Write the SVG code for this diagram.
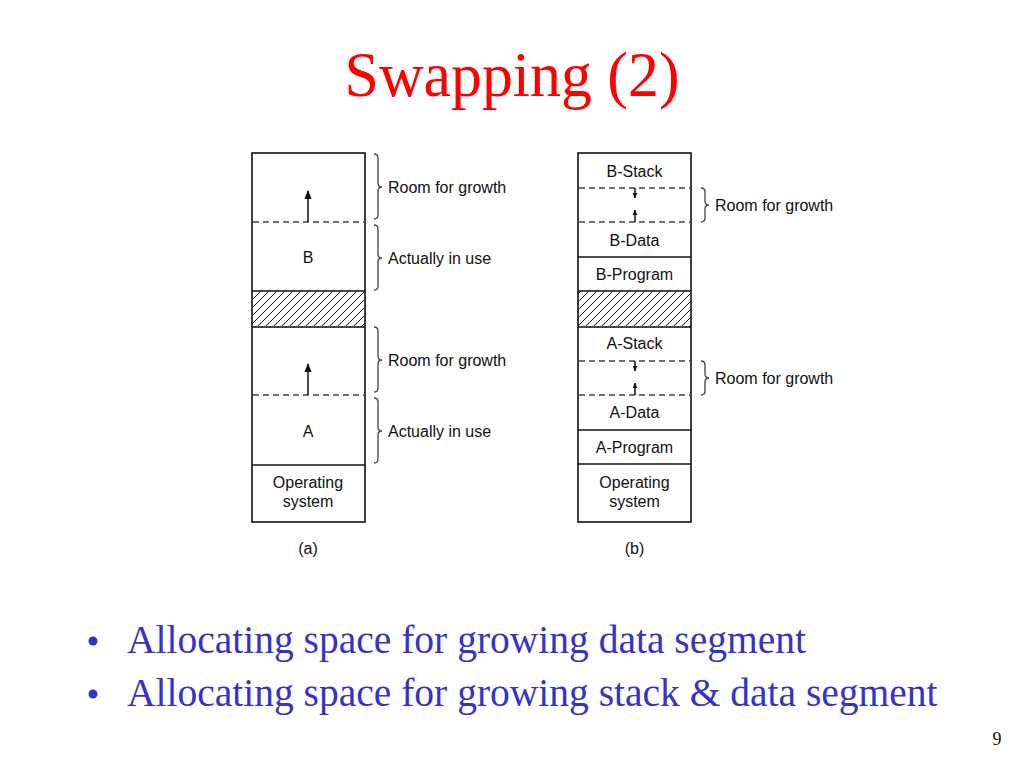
<svg xmlns="http://www.w3.org/2000/svg" width="1024" height="768" viewBox="0 0 1024 768">
<defs>
<style>
.title{font-family:"Liberation Serif","Times New Roman",serif;font-size:63px;fill:#ff0000}
.bul{font-family:"Liberation Serif","Times New Roman",serif;font-size:39.5px;fill:#3333cc}
.lbl{font-family:"Liberation Sans",Arial,sans-serif;font-size:16px;fill:#111}
.mid{text-anchor:middle}
.seg{fill:#fff}
.dash{stroke:#444;stroke-width:1.3;stroke-dasharray:6 4;fill:none}
.solid{stroke:#111;stroke-width:1.6;fill:none}
.brace{stroke:#444;stroke-width:1.3;fill:none}
.arr{stroke:#111;stroke-width:1.5;fill:none}
</style>
<pattern id="hatch" patternUnits="userSpaceOnUse" width="8" height="8">
<path d="M-2,2 L2,-2 M0,8 L8,0 M6,10 L10,6" stroke="#111" stroke-width="1"/>
</pattern>
<marker id="ah" viewBox="0 0 10 10" refX="9" refY="5" markerWidth="9" markerHeight="9" markerUnits="userSpaceOnUse" orient="auto">
<path d="M0,1 L10,5 L0,9 Z" fill="#111"/>
</marker>
<marker id="ahs" viewBox="0 0 10 10" refX="9" refY="5" markerWidth="6" markerHeight="6" markerUnits="userSpaceOnUse" orient="auto">
<path d="M0,1 L10,5 L0,9 Z" fill="#111"/>
</marker>
</defs>
<rect width="1024" height="768" fill="#fff"/>
<text class="title mid" x="512" y="96" textLength="335" lengthAdjust="spacingAndGlyphs">Swapping (2)</text>

<!-- Column (a) -->
<g id="a-B-room"><rect class="seg" x="252" y="153" width="113" height="69"/></g>
<g id="a-B"><rect class="seg" x="252" y="222" width="113" height="69"/><text class="lbl mid" x="308" y="263">B</text></g>
<g id="a-hatch"><rect x="252" y="291" width="113" height="36" fill="url(#hatch)"/></g>
<g id="a-A-room"><rect class="seg" x="252" y="327" width="113" height="68"/></g>
<g id="a-A"><rect class="seg" x="252" y="395" width="113" height="70"/><text class="lbl mid" x="308" y="437">A</text></g>
<g id="a-os"><rect class="seg" x="252" y="465" width="113" height="57"/><text class="lbl mid" x="308" y="488">Operating</text><text class="lbl mid" x="308" y="507">system</text></g>
<g id="a-caption"><text class="lbl mid" x="308" y="554">(a)</text></g>
<g id="a-frame">
<rect class="solid" x="252" y="153" width="113" height="369"/>
<line class="solid" x1="252" y1="291" x2="365" y2="291"/>
<line class="solid" x1="252" y1="327" x2="365" y2="327"/>
<line class="solid" x1="252" y1="465" x2="365" y2="465"/>
</g>

<!-- Column (b) -->
<g id="b-B-stack"><rect class="seg" x="578" y="153" width="113" height="35"/><text class="lbl mid" x="634.5" y="177">B-Stack</text></g>
<g id="b-B-room"><rect class="seg" x="578" y="188" width="113" height="34"/></g>
<g id="b-B-data"><rect class="seg" x="578" y="222" width="113" height="35"/><text class="lbl mid" x="634.5" y="246">B-Data</text></g>
<g id="b-B-prog"><rect class="seg" x="578" y="257" width="113" height="34"/><text class="lbl mid" x="634.5" y="280">B-Program</text></g>
<g id="b-hatch"><rect x="578" y="291" width="113" height="36" fill="url(#hatch)"/></g>
<g id="b-A-stack"><rect class="seg" x="578" y="327" width="113" height="34"/><text class="lbl mid" x="634.5" y="349">A-Stack</text></g>
<g id="b-A-room"><rect class="seg" x="578" y="361" width="113" height="34"/></g>
<g id="b-A-data"><rect class="seg" x="578" y="395" width="113" height="35"/><text class="lbl mid" x="634.5" y="418">A-Data</text></g>
<g id="b-A-prog"><rect class="seg" x="578" y="430" width="113" height="34"/><text class="lbl mid" x="634.5" y="453">A-Program</text></g>
<g id="b-os"><rect class="seg" x="578" y="464" width="113" height="58"/><text class="lbl mid" x="634.5" y="488">Operating</text><text class="lbl mid" x="634.5" y="507">system</text></g>
<g id="b-caption"><text class="lbl mid" x="634.5" y="554">(b)</text></g>
<g id="b-frame">
<rect class="solid" x="578" y="153" width="113" height="369"/>
<line class="solid" x1="578" y1="257" x2="691" y2="257"/>
<line class="solid" x1="578" y1="291" x2="691" y2="291"/>
<line class="solid" x1="578" y1="327" x2="691" y2="327"/>
<line class="solid" x1="578" y1="430" x2="691" y2="430"/>
<line class="solid" x1="578" y1="464" x2="691" y2="464"/>
</g>

<!-- Labels -->
<g id="labels">
<text class="lbl" x="388" y="193">Room for growth</text>
<text class="lbl" x="388" y="264">Actually in use</text>
<text class="lbl" x="388" y="366">Room for growth</text>
<text class="lbl" x="388" y="437">Actually in use</text>
<text class="lbl" x="715" y="211">Room for growth</text>
<text class="lbl" x="715" y="384">Room for growth</text>
</g>

<!-- Connectors: dashed boundaries, arrows, braces -->
<g id="connectors">
<line class="dash" x1="253" y1="222" x2="364" y2="222"/>
<line class="dash" x1="253" y1="395" x2="364" y2="395"/>
<line class="dash" x1="579" y1="188" x2="690" y2="188"/>
<line class="dash" x1="579" y1="222" x2="690" y2="222"/>
<line class="dash" x1="579" y1="361" x2="690" y2="361"/>
<line class="dash" x1="579" y1="395" x2="690" y2="395"/>
<line class="arr" x1="308" y1="222" x2="308" y2="191" marker-end="url(#ah)"/>
<line class="arr" x1="308" y1="395" x2="308" y2="364" marker-end="url(#ah)"/>
<line class="arr" x1="635" y1="188" x2="635" y2="198" stroke-width="1.2" marker-end="url(#ahs)"/>
<line class="arr" x1="635" y1="222" x2="635" y2="210" stroke-width="1.2" marker-end="url(#ahs)"/>
<line class="arr" x1="635" y1="361" x2="635" y2="371" stroke-width="1.2" marker-end="url(#ahs)"/>
<line class="arr" x1="635" y1="395" x2="635" y2="383" stroke-width="1.2" marker-end="url(#ahs)"/>
<path class="brace" d="M374,154 Q378,154 378,158 L378,183 Q378,187 382,187 Q378,187 378,191 L378,215 Q378,219 374,219"/>
<path class="brace" d="M374,225 Q378,225 378,229 L378,254 Q378,258 382,258 Q378,258 378,262 L378,286 Q378,290 374,290"/>
<path class="brace" d="M374,327 Q378,327 378,331 L378,356 Q378,360 382,360 Q378,360 378,364 L378,388 Q378,392 374,392"/>
<path class="brace" d="M374,398 Q378,398 378,402 L378,427 Q378,431 382,431 Q378,431 378,435 L378,459 Q378,463 374,463"/>
<path class="brace" d="M701,188 Q705,188 705,192 L705,201 Q705,205 709,205 Q705,205 705,209 L705,218 Q705,222 701,222"/>
<path class="brace" d="M701,361 Q705,361 705,365 L705,374 Q705,378 709,378 Q705,378 705,382 L705,391 Q705,395 701,395"/>
</g>

<!-- Bullets -->
<g id="bullets">
<circle cx="93" cy="641" r="4.5" fill="#3333cc"/>
<text class="bul" x="127" y="653">Allocating space for growing data segment</text>
<circle cx="93" cy="694" r="4.5" fill="#3333cc"/>
<text class="bul" x="127" y="706">Allocating space for growing stack &amp; data segment</text>
</g>
<text x="997" y="745" style="font-family:'Liberation Serif','Times New Roman',serif;font-size:18px;fill:#111" text-anchor="middle">9</text>
</svg>
